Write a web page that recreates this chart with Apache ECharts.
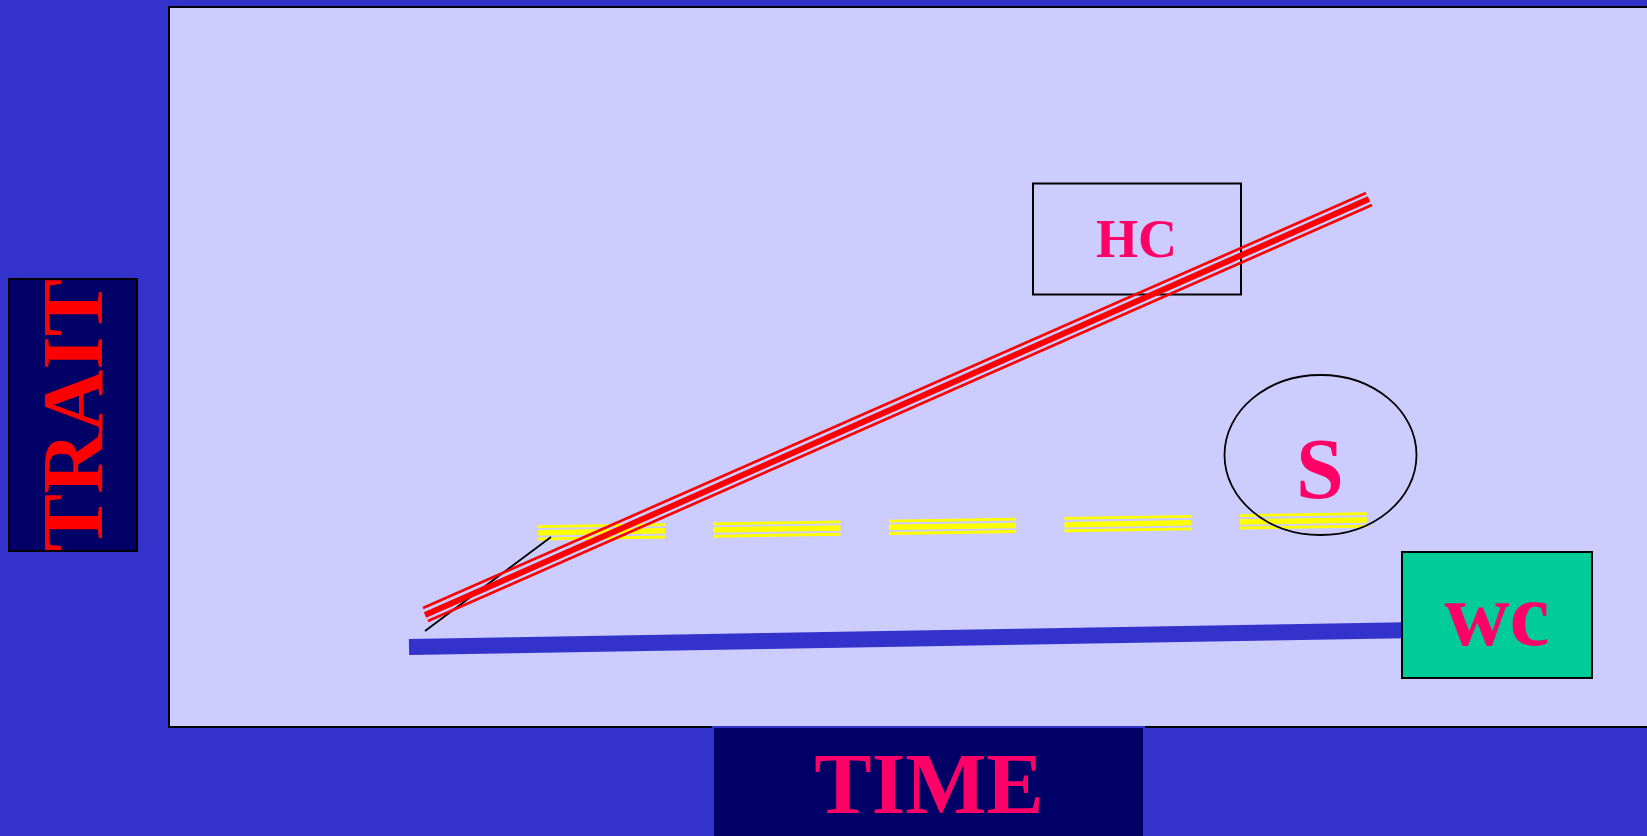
<!DOCTYPE html>
<html>
<head>
<meta charset="utf-8">
<script src="https://cdn.jsdelivr.net/npm/echarts@6/dist/echarts.min.js"></script>
<style>
  html, body { margin: 0; padding: 0; background: #3333cc; }
  #chart { width: 1647px; height: 836px; }
</style>
</head>
<body>
<div id="chart"></div>
<script>
// ---- Data (time, trait) ----
var wcLine      = [[24.0, 8.0], [125.1, 9.7]];          // within-clade (blue)
var hcCenter    = [[25.6, 11.2], [120.0, 52.8]];        // HC trajectory (thick red)
var hcUpper     = [[25.4, 11.9], [119.7, 53.4]];        // HC outline upper
var hcLower     = [[25.9, 10.6], [120.3, 52.2]];        // HC outline lower
var sTop        = [[36.9, 20.03], [120.0, 21.35]];      // S trajectory (yellow)
var sMid        = [[36.9, 19.43], [120.0, 20.7]];
var sBottom     = [[36.9, 18.8], [120.0, 20.1]];
var branchLine  = [[25.6, 9.6], [38.2, 19.0]];          // black branch
var axisNames   = { x: 'TIME', y: 'TRAIT' };
var labels      = { hc: 'HC', s: 'S', wc: 'wc' };

var chart = echarts.init(document.getElementById('chart'), null, { renderer: 'canvas' });

function lineSeries(data, color, width, type, z) {
  return {
    type: 'line', data: data, symbol: 'none', silent: true, z: z,
    lineStyle: { color: color, width: width, type: type || 'solid', cap: 'butt' },
    animation: false
  };
}

var serif = "'Liberation Serif', 'DejaVu Serif', serif";
var pink = '#ff0066';

var option = {
  backgroundColor: '#3333cc',
  animation: false,
  grid: { left: 169, top: 7, right: 0, height: 720, show: false },
  xAxis: { type: 'value', min: 0, max: 147.8, show: false },
  yAxis: { type: 'value', min: 0, max: 72, show: false },
  series: [
    lineSeries(wcLine, '#3333cc', 16, 'solid', 2),
    lineSeries(sTop, '#ffff00', 2.8, [127, 48.5], 3),
    lineSeries(sMid, '#ffff00', 5.5, [127, 48.5], 3),
    lineSeries(sBottom, '#ffff00', 2.8, [127, 48.5], 3),
    lineSeries(branchLine, '#000000', 1.8, 'solid', 4),
    lineSeries(hcUpper, '#ff0000', 2.5, 'solid', 5),
    lineSeries(hcCenter, '#ff0000', 6, 'solid', 5),
    lineSeries(hcLower, '#ff0000', 2.5, 'solid', 5)
  ],
  graphic: [
    // plot panel (extends past the right edge)
    { type: 'rect', z: 0, silent: true,
      shape: { x: 169, y: 7, width: 1600, height: 720 },
      style: { fill: '#ccccff', stroke: '#000', lineWidth: 2 } },
    // HC box (under the lines)
    { type: 'rect', z: 1, silent: true,
      shape: { x: 1033, y: 183.5, width: 208, height: 111 },
      style: { fill: 'transparent', stroke: '#000', lineWidth: 2 } },
    { type: 'text', z: 20, silent: true, x: 1136.5, y: 243,
      style: { text: labels.hc, fill: pink, font: 'bold 54px ' + serif, align: 'center', verticalAlign: 'middle' } },
    // S ellipse
    { type: 'ellipse', z: 20, silent: true,
      shape: { cx: 1320.5, cy: 455, rx: 96, ry: 80 },
      style: { fill: 'transparent', stroke: '#000', lineWidth: 1.8 } },
    { type: 'text', z: 21, silent: true, x: 1320, y: 476,
      style: { text: labels.s, fill: pink, font: 'bold 86px ' + serif, align: 'center', verticalAlign: 'middle' } },
    // wc box
    { type: 'rect', z: 20, silent: true,
      shape: { x: 1402, y: 552, width: 190, height: 126 },
      style: { fill: '#00cc99', stroke: '#000', lineWidth: 2 } },
    { type: 'text', z: 21, silent: true, x: 1497, y: 622,
      style: { text: labels.wc, fill: pink, font: 'bold 90px ' + serif, align: 'center', verticalAlign: 'middle' } },
    // TIME box
    { type: 'rect', z: 30, silent: true,
      shape: { x: 713, y: 727, width: 431, height: 130 },
      style: { fill: '#000066', stroke: '#3333cc', lineWidth: 2 } },
    { type: 'text', z: 31, silent: true, x: 929, y: 791,
      style: { text: axisNames.x, fill: pink, font: 'bold 86px ' + serif, align: 'center', verticalAlign: 'middle' } },
    // TRAIT box
    { type: 'rect', z: 30, silent: true,
      shape: { x: 9, y: 279, width: 128, height: 272 },
      style: { fill: '#000066', stroke: '#000', lineWidth: 2 } },
    { type: 'text', z: 31, silent: true, x: 80, y: 415, rotation: Math.PI / 2,
      style: { text: axisNames.y, fill: '#ff0000', font: 'bold 86px ' + serif, align: 'center', verticalAlign: 'middle' } }
  ]
};

chart.setOption(option);
</script>
</body>
</html>
